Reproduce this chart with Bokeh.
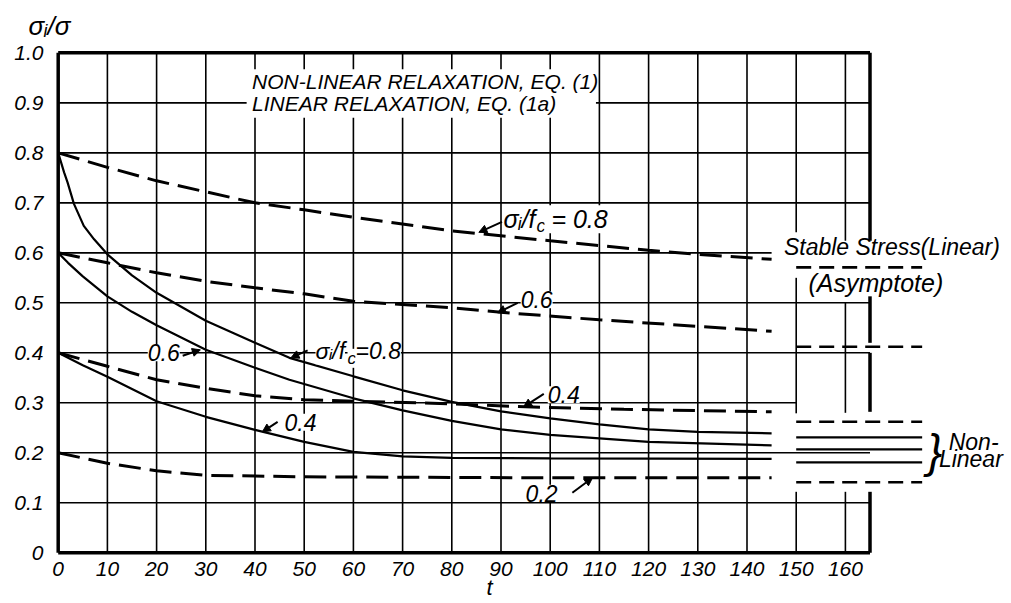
from bokeh.plotting import figure
from bokeh.models import Range1d, FixedTicker, Label, Arrow, NormalHead, Title
from bokeh.embed import file_html
from bokeh.resources import INLINE

FONT = "Liberation Sans"

# ---------------- data ----------------
# Linear relaxation, Eq. (1a) -- dashed
t_lin08 = [0, 10, 20, 30, 40, 50, 60, 80, 100, 120, 130, 145]
s_lin08 = [0.800, 0.771, 0.744, 0.722, 0.700, 0.686, 0.671, 0.644, 0.624, 0.605, 0.597, 0.587]
t_lin06 = [0, 10, 20, 30, 40, 50, 60, 80, 90, 110, 130, 145]
s_lin06 = [0.600, 0.580, 0.560, 0.543, 0.530, 0.518, 0.503, 0.490, 0.481, 0.466, 0.453, 0.443]
t_lin04 = [0, 10, 20, 30, 40, 50, 80, 95, 115, 145]
s_lin04 = [0.400, 0.373, 0.346, 0.329, 0.314, 0.306, 0.298, 0.292, 0.287, 0.282]
t_lin02 = [0, 10, 20, 30, 50, 100, 145]
s_lin02 = [0.200, 0.179, 0.164, 0.155, 0.152, 0.150, 0.150]

# Non-linear relaxation, Eq. (1) -- solid
t_non08 = [0, 1.2, 1.9, 3.2, 5.2, 7.3, 10, 15, 20, 30, 40, 47, 60, 70, 80, 90, 100, 110, 120, 130, 145]
s_non08 = [0.800, 0.761, 0.741, 0.698, 0.654, 0.627, 0.597, 0.555, 0.520, 0.464, 0.420, 0.390, 0.353,
           0.325, 0.302, 0.283, 0.269, 0.257, 0.247, 0.242, 0.239]
t_non06 = [0, 2, 5, 10, 15, 20, 30, 40, 47, 60, 70, 80, 90, 100, 120, 145]
s_non06 = [0.600, 0.580, 0.553, 0.513, 0.482, 0.455, 0.406, 0.370, 0.346, 0.309, 0.285, 0.264,
           0.247, 0.236, 0.222, 0.215]
t_non04 = [0, 5, 10, 20, 30, 40, 50, 60, 70, 80, 100, 145]
s_non04 = [0.400, 0.375, 0.352, 0.303, 0.272, 0.246, 0.222, 0.202, 0.193, 0.190, 0.189, 0.188]

# asymptotes (stable stress)
asym_linear = [0.571, 0.412, 0.262, 0.141]
asym_nonlinear = [0.231, 0.207, 0.181]
asym_t0, asym_t1 = 150, 175.6

x_ticks = [0, 10, 20, 30, 40, 50, 60, 70, 80, 90, 100, 110, 120, 130, 140, 150, 160]
y_ticks = [0, 0.1, 0.2, 0.3, 0.4, 0.5, 0.6, 0.7, 0.8, 0.9, 1.0]
y_tick_labels = ["0", "0.1", "0.2", "0.3", "0.4", "0.5", "0.6", "0.7", "0.8", "0.9", "1.0"]
t_frame = 165

# ---------------- figure ----------------
p = figure(width=1011, height=603, output_backend="svg", toolbar_location=None,
           x_range=Range1d(-0.955, 193.76), y_range=Range1d(-0.0054, 1.0167),
           min_border_left=53, min_border_right=0, min_border_top=44, min_border_bottom=48,
           title="σᵢ/σ")
p.outline_line_color = None
p.grid.visible = False
p.background_fill_color = "white"

p.title.align = "left"
p.title.offset = -25
p.title.standoff = 8
p.title.text_font = FONT
p.title.text_font_style = "italic"
p.title.text_font_size = "26px"
p.title.text_color = "black"

for ax in (p.xaxis, p.yaxis):
    ax.axis_line_color = None
    ax.major_tick_line_color = None
    ax.minor_tick_line_color = None
    ax.major_label_text_font = FONT
    ax.major_label_text_font_style = "italic"
    ax.major_label_text_font_size = "21px"
    ax.major_label_text_color = "black"

p.xaxis.ticker = FixedTicker(ticks=x_ticks)
p.xaxis.major_label_standoff = 0

p.yaxis.ticker = FixedTicker(ticks=y_ticks)
p.yaxis.major_label_overrides = {v: s for v, s in zip(y_ticks, y_tick_labels)}
p.yaxis.major_label_standoff = 4

t_title = Title(text="t", align="left", offset=433, standoff=-12, text_font=FONT,
                text_font_style="italic", text_font_size="22px", text_color="black")
p.add_layout(t_title, "below")

# ---------------- grid (with the gaps of the drawing) ----------------
gx0, gy0, gx1, gy1 = [], [], [], []
for t in x_ticks[1:]:
    if t == 150:
        spans = [(0, 0.122), (0.279, 0.55), (0.641, 1.0)]
    elif t == 160:
        spans = [(0, 0.122), (0.28, 0.5), (0.624, 1.0)]
    else:
        spans = [(0, 1.0)]
    for a, b in spans:
        gx0.append(t); gx1.append(t); gy0.append(a); gy1.append(b)
for y in y_ticks[1:-1]:
    end = t_frame
    if abs(y - 0.3) < 1e-9:
        end = 150
    if abs(y - 0.6) < 1e-9:
        end = 145
    gx0.append(0); gx1.append(end); gy0.append(y); gy1.append(y)
p.segment(gx0, gy0, gx1, gy1, line_color="black", line_width=1.6)

# frame
fx0 = [0, 0, 0]
fy0 = [0, 0, 1.0]
fx1 = [0, t_frame, t_frame]
fy1 = [1.0, 0, 1.0]
for a, b in [(0, 0.122), (0.282, 0.40), (0.42, 0.513), (0.624, 1.0)]:
    fx0.append(t_frame); fx1.append(t_frame); fy0.append(a); fy1.append(b)
p.segment(fx0, fy0, fx1, fy1, line_color="black", line_width=3.5)

# white field behind the legend text
p.quad(left=38.3, right=109.3, bottom=0.870, top=0.967, fill_color="white", line_color=None)

# ---------------- curves ----------------
for t, s in [(t_lin08, s_lin08), (t_lin06, s_lin06), (t_lin04, s_lin04), (t_lin02, s_lin02)]:
    p.line(t, s, line_color="black", line_width=3, line_dash="22 9")
for t, s in [(t_non08, s_non08), (t_non06, s_non06), (t_non04, s_non04)]:
    p.line(t, s, line_color="black", line_width=2.2)

n_l = len(asym_linear)
p.segment([asym_t0] * n_l, asym_linear, [asym_t1] * n_l, asym_linear,
          line_color="black", line_width=2.6, line_dash="15 8")
n_n = len(asym_nonlinear)
p.segment([asym_t0] * n_n, asym_nonlinear, [asym_t1] * n_n, asym_nonlinear,
          line_color="black", line_width=2.2)

# ---------------- texts ----------------
def lab(text, x, y, size="21px", bg=True, align="left", yoff=0, xoff=0):
    L = Label(x=x, y=y, text=text, text_font=FONT, text_font_style="italic",
              text_font_size=size, text_color="black", text_align=align,
              text_baseline="middle", x_offset=xoff, y_offset=yoff)
    if bg:
        L.background_fill_color = "white"
    p.add_layout(L)

def arrow(x0, y0, x1, y1):
    p.add_layout(Arrow(end=NormalHead(size=8, fill_color="black", line_color="black"),
                       x_start=x0, y_start=y0, x_end=x1, y_end=y1,
                       line_color="black", line_width=2))

lab("NON-LINEAR RELAXATION, EQ. (1)", 39.4, 0.943, size="21px", bg=False)
lab("LINEAR RELAXATION, EQ. (1a)", 39.4, 0.898, size="21px", bg=False)

# sigma_i/f_c = 0.8 on the dashed curve
lab("σᵢ/f", 90.5, 0.667, size="25px")
lab("c", 90.5, 0.667, size="18px", xoff=33, yoff=-7)
lab("\u00a0= 0.8", 90.5, 0.667, size="25px", xoff=41)
arrow(90.2, 0.662, 85.5, 0.641)

lab("0.6", 94.0, 0.506, size="23px")
arrow(93.4, 0.500, 89.3, 0.480)

# sigma_i/f_c = 0.8 on the solid curve
lab("σᵢ/f", 52.3, 0.403, size="23px")
lab("c", 52.3, 0.403, size="17px", xoff=32, yoff=-7)
lab("=0.8", 52.3, 0.403, size="23px", xoff=40)
arrow(50.7, 0.405, 47.3, 0.390)

lab("0.4", 99.5, 0.316, size="23px")
arrow(98.7, 0.318, 94.6, 0.292)

lab("0.4", 46.0, 0.261, size="23px")
arrow(44.6, 0.262, 41.5, 0.242)

lab("0.6", 18.2, 0.400, size="23px")
arrow(25.3, 0.394, 28.9, 0.406)

lab("0.2", 95.0, 0.119, size="23px")
arrow(104.5, 0.120, 108.6, 0.150)

lab("Stable Stress(Linear)", 147.5, 0.611, size="23px", bg=False)
lab("(Asymptote)", 152.5, 0.540, size="25px", bg=False)
lab("}", 176.6, 0.203, size="46px", bg=False)
lab("Non-", 181.0, 0.222, size="23px", bg=False)
lab("Linear", 179.0, 0.187, size="23px", bg=False)

open("out.html", "w").write(file_html(p, INLINE))
